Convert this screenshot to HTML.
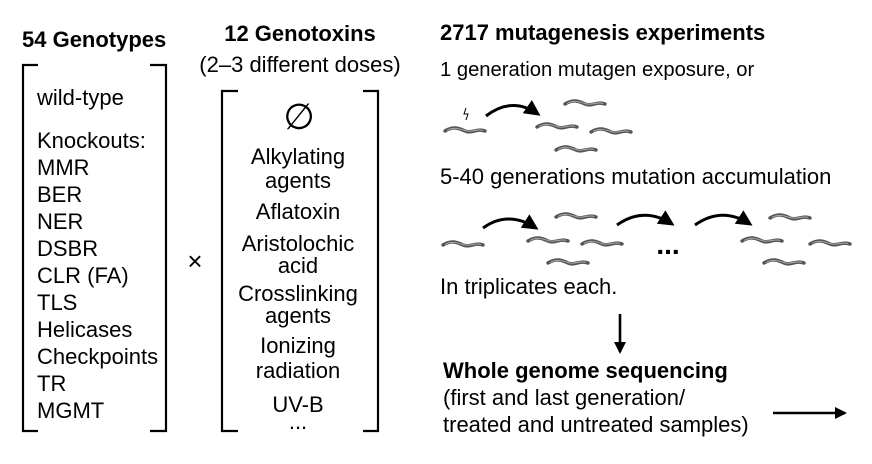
<!DOCTYPE html>
<html><head><style>
body{margin:0;background:#fff;}
svg{display:block;}
text{font-family:"Liberation Sans",Arial,sans-serif;font-size:22px;fill:#000;}
.b{font-weight:bold;}
</style></head><body>
<svg width="872" height="464" viewBox="0 0 872 464">
<defs>
<g id="w">
<path d="M0,4 C8,-1 14,1 20,4 C26,7 32,1 40,4" fill="none" stroke="#555" stroke-width="3.4" stroke-linecap="round"/>
<path d="M2,3.5 C8,0 14,1.5 20,3.5 C26,6 32,1.5 38,3.5" fill="none" stroke="#aaa" stroke-width="1"/>
</g>
<marker id="ah" markerWidth="12" markerHeight="12" refX="10" refY="6" orient="auto" markerUnits="userSpaceOnUse"><path d="M0,0 L12,6 L0,12 Z" fill="#000"/></marker>
<marker id="ab" markerWidth="16" markerHeight="16" refX="13" refY="8" orient="auto" markerUnits="userSpaceOnUse"><path d="M0,0 L16,8 L0,16 Z" fill="#000"/></marker>
</defs>
<g fill="none" stroke="#000" stroke-width="2.2">
<path d="M38,65 H23 V431 H38"/><path d="M150,65 H166 V431 H150"/>
<path d="M238,91 H222 V431 H238"/><path d="M363,91 H378 V431 H363"/>
</g>
<text class="b" x="22" y="47">54 Genotypes</text>
<text class="b" x="300" y="41" text-anchor="middle">12 Genotoxins</text>
<text x="300" y="72" text-anchor="middle">(2–3 different doses)</text>
<g>
<text x="37" y="105">wild-type</text>
<text x="37" y="148">Knockouts:</text>
<text x="37" y="175">MMR</text>
<text x="37" y="202">BER</text>
<text x="37" y="229">NER</text>
<text x="37" y="256">DSBR</text>
<text x="37" y="283">CLR (FA)</text>
<text x="37" y="310">TLS</text>
<text x="37" y="337">Helicases</text>
<text x="37" y="364">Checkpoints</text>
<text x="37" y="391">TR</text>
<text x="37" y="418">MGMT</text>
</g>
<text x="195" y="270" text-anchor="middle" style="font-size:26px">×</text>
<g text-anchor="middle">
<text x="299" y="129" style="font-size:36px">∅</text>
<text x="298" y="164">Alkylating</text>
<text x="298" y="188">agents</text>
<text x="298" y="219">Aflatoxin</text>
<text x="298" y="251">Aristolochic</text>
<text x="298" y="273">acid</text>
<text x="298" y="301">Crosslinking</text>
<text x="298" y="323">agents</text>
<text x="298" y="353">Ionizing</text>
<text x="298" y="378">radiation</text>
<text x="298" y="412">UV-B</text>
<text x="298" y="429">...</text>
</g>
<text class="b" x="440" y="40">2717 mutagenesis experiments</text>
<text x="440" y="76" style="font-size:20.2px">1 generation mutagen exposure, or</text>
<text x="440" y="184">5-40 generations mutation accumulation</text>
<text x="440" y="294">In triplicates each.</text>
<text class="b" x="443" y="378">Whole genome sequencing</text>
<text x="443" y="405">(first and last generation/</text>
<text x="443" y="432">treated and untreated samples)</text>
<path d="M466,108 L464,114 L468,114 L466,120" fill="none" stroke="#000" stroke-width="1"/>
<use href="#w" x="445" y="127"/>
<use href="#w" x="565" y="100"/>
<use href="#w" x="537" y="123"/>
<use href="#w" x="591" y="128"/>
<use href="#w" x="556" y="146"/>
<use href="#w" x="443" y="241"/>
<use href="#w" x="556" y="213"/>
<use href="#w" x="528" y="237"/>
<use href="#w" x="582" y="240"/>
<use href="#w" x="548" y="259"/>
<use href="#w" x="770" y="214"/>
<use href="#w" x="742" y="237"/>
<use href="#w" x="810" y="240"/>
<use href="#w" x="764" y="259"/>
<text x="668" y="254" text-anchor="middle" class="b" style="font-size:28px">...</text>
<g fill="none" stroke="#000" stroke-width="3">
<path d="M486,116 Q512,96 538,114" marker-end="url(#ab)"/>
<path d="M483,228 Q508,210 536,228" marker-end="url(#ab)"/>
<path d="M617,225 Q644,206 672,224" marker-end="url(#ab)"/>
<path d="M695,225 Q722,206 750,224" marker-end="url(#ab)"/>
</g>
<g stroke="#000" stroke-width="2.6" fill="none">
<line x1="620" y1="314" x2="620" y2="352" marker-end="url(#ah)"/>
<line x1="773" y1="413" x2="845" y2="413" marker-end="url(#ah)"/>
</g>
</svg>
</body></html>
